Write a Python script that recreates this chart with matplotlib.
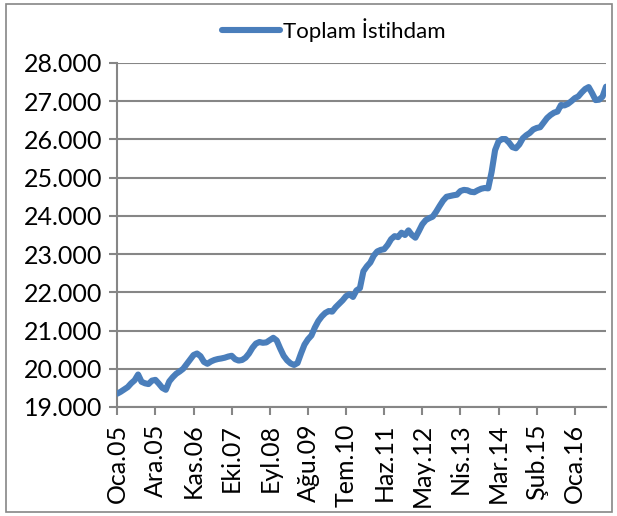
import numpy as np
import matplotlib.pyplot as plt
from matplotlib.patches import Rectangle

# monthly total employment (thousand persons), Oca.05 - Eki.16
istihdam = [
    19350, 19400, 19460, 19520, 19620, 19700, 19850, 19660, 19620, 19600,
    19690, 19710, 19610, 19500, 19450, 19670, 19780, 19870, 19930, 20000,
    20120, 20240, 20360, 20400, 20330, 20180, 20130, 20190, 20230, 20255,
    20270, 20290, 20320, 20340, 20250, 20215, 20230, 20290, 20400, 20550,
    20660, 20700, 20680, 20690, 20750, 20810, 20740, 20530, 20340, 20220,
    20140, 20100, 20150, 20400, 20630, 20770, 20870, 21080, 21250, 21370,
    21460, 21510, 21495, 21610, 21700, 21790, 21900, 21950, 21880, 22050,
    22110, 22550, 22680, 22780, 22960, 23070, 23110, 23130, 23240, 23390,
    23470, 23445, 23560, 23500, 23620, 23500, 23430, 23600, 23780, 23890,
    23940, 23980, 24110, 24260, 24400, 24500, 24520, 24540, 24555, 24650,
    24680, 24670, 24630, 24620, 24670, 24710, 24730, 24720, 25150, 25720,
    25950, 26010, 26010, 25920, 25800, 25770, 25870, 26030, 26110, 26170,
    26260, 26300, 26320, 26440, 26560, 26640, 26700, 26730, 26900, 26890,
    26930, 27000, 27080, 27125, 27230, 27320, 27370, 27210, 27030, 27040,
    27120, 27380,
]
tick_labels = ["Oca.05", "Ara.05", "Kas.06", "Eki.07", "Eyl.08", "Ağu.09", "Tem.10",
               "Haz.11", "May.12", "Nis.13", "Mar.14", "Şub.15", "Oca.16"]
y_ticks = [19000, 20000, 21000, 22000, 23000, 24000, 25000, 26000, 27000, 28000]

plt.rcParams['font.family'] = ['Lato', 'DejaVu Sans']
grey = '#868686'

fig = plt.figure(figsize=(6.17, 5.16), dpi=100)
ax = fig.add_axes([117.3 / 617, 1 - 407 / 516, (606 - 117.3) / 617, (407 - 63) / 516])

x = np.arange(len(istihdam))
ax.plot(x, istihdam, color='#4a7ebb', linewidth=4.4, solid_joinstyle='round',
        solid_capstyle='round', label='Toplam İstihdam', zorder=3)

ax.set_xlim(0, len(istihdam) - 1)
ax.set_ylim(19000, 28000)
ax.set_yticks(y_ticks)
ax.set_yticklabels([f"{v // 1000}.000" for v in y_ticks])
ax.set_xticks(np.arange(0, 11 * len(tick_labels), 11))
ax.set_xticklabels(tick_labels, rotation=90)

ax.grid(axis='y', color=grey, linewidth=1.5)
ax.set_axisbelow(True)
for side in ['top', 'right']:
    ax.spines[side].set_visible(False)
for side in ['left', 'bottom']:
    ax.spines[side].set_color(grey)
    ax.spines[side].set_linewidth(1.5)
ax.tick_params(axis='both', colors=grey, labelcolor='black', labelsize=18,
               length=6, width=1.5)
ax.tick_params(axis='y', pad=5)
ax.tick_params(axis='x', pad=6)

fig.legend(loc='center', bbox_to_anchor=(334 / 617, 1 - 30 / 516), frameon=False,
           fontsize=16, handlelength=2.6, handletextpad=0.15)

# chart area border
fig.patches.append(Rectangle((6 / 617, 4 / 516), 606 / 617, 508 / 516,
                             transform=fig.transFigure, fill=False,
                             edgecolor=grey, linewidth=1.2))

fig.savefig('out.png', dpi=100)
